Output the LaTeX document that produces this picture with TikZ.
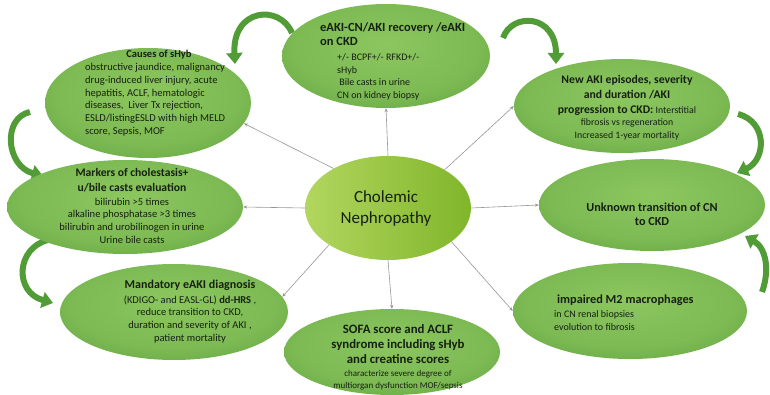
\documentclass[tikz,border=0pt]{standalone}
\usepackage{fontspec}
\setmainfont{Carlito}
\usetikzlibrary{shapes.geometric,arrows.meta}
\definecolor{gdark}{RGB}{66,140,40}
\definecolor{glight}{RGB}{140,198,95}
\definecolor{cnl}{RGB}{178,214,95}
\definecolor{cnd}{RGB}{128,182,42}
\definecolor{txtc}{RGB}{22,32,18}
\definecolor{connc}{RGB}{150,150,150}
\definecolor{garrow}{RGB}{82,156,56}
\pgfdeclareradialshading{ellg}{\pgfpoint{0bp}{6bp}}{color(0bp)=(glight); color(22bp)=(glight!80!gdark); color(50bp)=(gdark)}
\newcommand\hdf[1]{\bfseries\fontsize{#1}{14}\selectfont}
\newcommand\bdf[1]{\fontsize{#1}{12.7}\selectfont}
\tikzset{
  blob/.style={ellipse, draw=none, shading=ellg, inner sep=0pt},
  cnblob/.style={ellipse, draw=none, left color=cnl, right color=cnd, inner sep=0pt},
  bodytxt/.style={text=txtc, inner sep=0pt},
  conn/.style={draw=connc, line width=0.6pt, -{Stealth[length=4pt,width=3.2pt]}},
  garr/.style={draw=garrow, line width=6pt, -{Triangle[length=11pt,width=16pt]}}
}
\begin{document}
\begin{tikzpicture}[x=1pt,y=-1pt]
\useasboundingbox (0,0) rectangle (770,395);
% green curved arrows
\coordinate (a1) at (292,33); \coordinate (a2) at (235,64);
\coordinate (b1) at (503,38); \coordinate (b2) at (556,64);
\coordinate (c1) at (738,114); \coordinate (c2) at (737,173);
\coordinate (d1) at (762,292); \coordinate (d2) at (745,236);
\coordinate (e1) at (30,112); \coordinate (e2) at (43,176);
\coordinate (f1) at (48,240); \coordinate (f2) at (53,303);
\draw[garr] (a1) .. controls (280,4) and (232,8) .. (a2);
\draw[garr] (b1) .. controls (512,12) and (556,14) .. (b2);
\draw[garr] (c1) .. controls (768,122) and (766,160) .. (c2);
\draw[garr] (d1) .. controls (770,270) and (766,248) .. (d2);
\draw[garr] (e1) .. controls (2,118) and (6,166) .. (e2);
\draw[garr] (f1) .. controls (16,248) and (14,292) .. (f2);
% ellipses
\node[blob, minimum width=208pt, minimum height=104pt] (top) at (386,56) {};
\node[blob, minimum width=206pt, minimum height=110pt] (causes) at (148,103) {};
\node[blob, minimum width=216pt, minimum height=94pt] (naki) at (622,106) {};
\node[blob, minimum width=236pt, minimum height=94pt] (markers) at (125,207) {};
\node[blob, minimum width=226pt, minimum height=92pt] (unknown) at (652,205) {};
\node[blob, minimum width=228pt, minimum height=96pt] (mand) at (174,312) {};
\node[blob, minimum width=216pt, minimum height=86pt] (sofa) at (392,352) {};
\node[blob, minimum width=234pt, minimum height=96pt] (m2) at (630,311) {};
\node[cnblob, minimum width=166pt, minimum height=104pt] (cn) at (388,208) {};
% connectors
\draw[conn] (cn.north) -- (top.south);
\draw[conn] (cn.144) -- (causes.-12);
\draw[conn] (cn.34) -- (naki.west);
\draw[conn] (cn.180) -- (markers.east);
\draw[conn] (cn.0) -- (unknown.west);
\draw[conn] (cn.212) -- (mand.8);
\draw[conn] (cn.south) -- (sofa.north);
\draw[conn] (cn.-28) -- (m2.west);
% texts
\node[bodytxt, font=\bdf{10}, align=left, anchor=north west] (toptx) at (320,22.4) {{\hdf{12.5}eAKI-CN/AKI recovery /eAKI}\\[1.3pt]{\hdf{12.5}on CKD}\\[2.3pt]\hspace*{17pt}+/- BCPF+/- RFKD+/-\\\hspace*{17pt}sHyb\\\hspace*{17pt} Bile casts in urine\\\hspace*{17pt}CN on kidney biopsy};
\node[bodytxt, font=\hdf{10.5}, anchor=north] (causesH) at (159,50.3) {Causes of sHyb};
\node[bodytxt, font=\bdf{10.5}, align=left, anchor=north west] (causesB) at (85,63.3) {obstructive jaundice, malignancy\\drug-induced liver injury, acute\\hepatitis, ACLF, hematologic\\diseases,\ \ Liver Tx rejection,\\ESLD/listingESLD with high MELD\\score, Sepsis, MOF};
\node[bodytxt, font=\bdf{9.8}, align=center, anchor=north] (nakitx) at (627,74.7) {{\hdf{11.7}New AKI episodes, severity}\\[2.3pt]{\hdf{11.7}and duration /AKI}\\[2.3pt]{\hdf{11.7}progression to CKD:} Interstitial\\fibrosis vs regeneration\\Increased 1-year mortality};
\node[bodytxt, font=\bdf{10.5}, align=center, anchor=north] (markerstx) at (132,167.8) {{\hdf{11.6}Markers of cholestasis+}\\[2.3pt]{\hdf{11.6}u/bile casts evaluation}\\[1.3pt]bilirubin >5 times\\alkaline phosphatase >3 times\\bilirubin and urobilinogen in urine\\Urine bile casts};
\node[bodytxt, font=\bdf{12.2}, align=center, anchor=north] (unknowntx) at (652,202.5) {{\hdf{12.2}Unknown transition of CN}\\[1.3pt]{\hdf{12.2}to CKD}};
\node[bodytxt, font=\bdf{10.5}, align=center, anchor=north] (mandtx) at (190,279.6) {{\hdf{12}Mandatory eAKI diagnosis}\\[2.3pt](KDIGO- and EASL-GL) {\bfseries dd-HRS} ,\\reduce transition to CKD,\\duration and severity of AKI ,\\patient mortality};
\node[bodytxt, font=\bdf{9}, align=center, anchor=north] (sofatx) at (398,324.2) {{\hdf{12.8}SOFA score and ACLF}\\[2.3pt]{\hdf{12.8}syndrome including sHyb}\\[2.3pt]{\hdf{12.8}and creatine scores}\\characterize severe degree of\\multiorgan dysfunction MOF/sepsis};
\node[bodytxt, font=\bdf{10}, align=left, anchor=north west] (m2tx) at (554,294.5) {\hspace*{3pt}{\hdf{12.3}impaired M2 macrophages}\\[1.3pt]in CN renal biopsies\\evolution to fibrosis};
\node[text=txtc, font=\fontsize{17}{21}\selectfont, align=center, inner sep=0pt] (cntx) at (386,208) {Cholemic\\Nephropathy};
\end{tikzpicture}
\end{document}
